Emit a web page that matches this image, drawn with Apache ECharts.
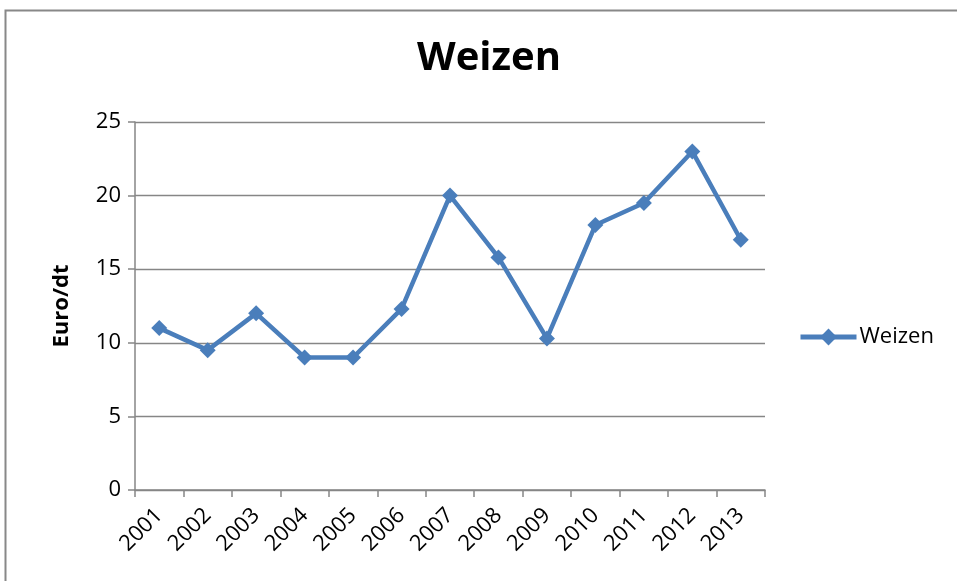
<!DOCTYPE html>
<html><head><meta charset="utf-8">
<script src="https://cdn.jsdelivr.net/npm/echarts@6/dist/echarts.min.js"></script>
<style>html,body{margin:0;padding:0;background:#fff}#c{width:957px;height:581px}</style>
</head><body><div id="c"></div>
<script>
const years = ['2001','2002','2003','2004','2005','2006','2007','2008','2009','2010','2011','2012','2013'];
const weizen = [11.0, 9.5, 12.0, 9.0, 9.0, 12.3, 20.0, 15.8, 10.3, 18.0, 19.5, 23.0, 17.0];
const yTicks = [0, 5, 10, 15, 20, 25];
const FONT = '"Open Sans", "Noto Sans", sans-serif';
const chart = echarts.init(document.getElementById('c'));
chart.setOption({
  animation: false,
  textStyle: {fontFamily: FONT},
  graphic: [{type: 'rect', shape: {x: 5.5, y: 10.5, width: 1000, height: 1000}, style: {fill: 'none', stroke: '#888', lineWidth: 2}, silent: true}],
  title: {text: 'Weizen', left: 412, top: 34, textStyle: {fontSize: 40, fontWeight: 'bold', color: '#000', fontFamily: FONT}},
  legend: {left: 798, top: 326, padding: 0, itemWidth: 56, itemHeight: 21, itemGap: 2,
    lineStyle: {width: 5, color: '#4a7ebb'},
    textStyle: {fontSize: 22, color: '#000', fontFamily: FONT, padding: [0, 0, 0, -2]}, data: ['Weizen']},
  grid: {left: 135, right: 192, top: 122, bottom: 91},
  xAxis: {type: 'category', data: years, boundaryGap: true,
    axisLine: {lineStyle: {color: '#868686', width: 1.5}},
    axisTick: {show: true, length: 7, lineStyle: {color: '#868686', width: 1.5}},
    axisLabel: {rotate: 45, fontSize: 22, color: '#000', margin: 22, fontFamily: FONT}},
  yAxis: {type: 'value', min: yTicks[0], max: yTicks[yTicks.length - 1], interval: 5,
    name: 'Euro/dt', nameLocation: 'middle', nameGap: 62, nameRotate: 90,
    nameTextStyle: {fontSize: 22, fontWeight: 'bold', color: '#000', fontFamily: FONT},
    axisLine: {show: true, lineStyle: {color: '#868686', width: 1.5}},
    axisTick: {show: true, length: 7, lineStyle: {color: '#868686', width: 1.5}},
    splitLine: {lineStyle: {color: '#868686', width: 1.3}},
    axisLabel: {fontSize: 22, color: '#000', margin: 14, fontFamily: FONT}},
  series: [{name: 'Weizen', type: 'line', data: weizen, symbol: 'diamond', symbolSize: 16,
    lineStyle: {color: '#4a7ebb', width: 4.5}, itemStyle: {color: '#4a7ebb'}}]
});
</script></body></html>
